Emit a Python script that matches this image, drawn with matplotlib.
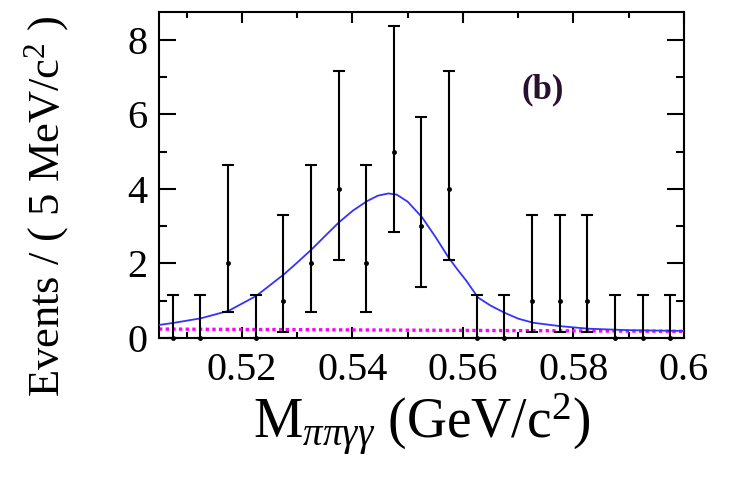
import matplotlib
matplotlib.use("Agg")
import matplotlib.pyplot as plt
from matplotlib.ticker import MultipleLocator, FixedLocator

plt.rcParams['font.family'] = 'Liberation Serif'
plt.rcParams['mathtext.fontset'] = 'custom'
plt.rcParams['mathtext.rm'] = 'Liberation Serif'
plt.rcParams['mathtext.it'] = 'Liberation Serif:italic'
plt.rcParams['mathtext.bf'] = 'Liberation Serif:bold'

# data points (5 MeV bins) with asymmetric Poisson errors
mass = [0.5075, 0.5125, 0.5175, 0.5225, 0.5275, 0.5325, 0.5375, 0.5425, 0.5475, 0.5525,
        0.5575, 0.5625, 0.5675, 0.5725, 0.5775, 0.5825, 0.5875, 0.5925, 0.5975]
counts = [0, 0, 2, 0, 1, 2, 4, 2, 5, 3, 4, 0, 0, 1, 1, 1, 0, 0, 0]
err_lo = [0.0, 0.0, 1.29, 0.0, 0.83, 1.29, 1.91, 1.29, 2.16, 1.63, 1.91, 0.0, 0.0,
          0.83, 0.83, 0.83, 0.0, 0.0, 0.0]
err_hi = [1.15, 1.15, 2.64, 1.15, 2.30, 2.64, 3.16, 2.64, 3.38, 2.92, 3.16, 1.15, 1.15,
          2.30, 2.30, 2.30, 1.15, 1.15, 1.15]

# total fit curve
fit_x = [0.505, 0.5078, 0.5126, 0.5176, 0.5226, 0.5277, 0.5302, 0.5327, 0.5352, 0.5376,
         0.5401, 0.5426, 0.5446, 0.5465, 0.5480, 0.5500, 0.5526, 0.5550, 0.5574, 0.5590,
         0.5606, 0.5627, 0.5650, 0.5675, 0.5700, 0.5727, 0.5775, 0.5827, 0.590, 0.600]
fit_y = [0.35, 0.41, 0.53, 0.73, 1.13, 1.72, 2.05, 2.39, 2.76, 3.11,
         3.42, 3.67, 3.82, 3.88, 3.85, 3.66, 3.24, 2.72, 2.16, 1.84,
         1.54, 1.09, 0.87, 0.68, 0.52, 0.41, 0.32, 0.25, 0.21, 0.19]

# background (dotted)
bkg_x = [0.505, 0.600]
bkg_y = [0.24, 0.18]

fig = plt.figure(figsize=(7.35, 4.8), dpi=100)
ax = fig.add_axes([0.2163, 0.2958, 0.7143, 0.6792])

ax.plot(bkg_x, bkg_y, color='#ff00ff', lw=2.4, ls=(0, (1, 1)), zorder=2)
ax.plot(fit_x, fit_y, color='#3333ff', lw=1.3, zorder=3)
ax.errorbar(mass, counts, yerr=[err_lo, err_hi], fmt='o', color='black', ms=2.5,
            elinewidth=1.5, capsize=4, capthick=1.5, zorder=4, clip_on=False)

ax.set_xlim(0.505, 0.6)
ax.set_ylim(0, 8.75)

ax.xaxis.set_major_locator(FixedLocator([0.52, 0.54, 0.56, 0.58, 0.60]))
ax.xaxis.set_minor_locator(FixedLocator([0.51, 0.53, 0.55, 0.57, 0.59]))
ax.set_xticklabels(['0.52', '0.54', '0.56', '0.58', '0.6'])
ax.yaxis.set_major_locator(MultipleLocator(2))
ax.yaxis.set_minor_locator(MultipleLocator(1))

ax.tick_params(axis='both', which='both', direction='in', top=True, right=True, width=1.5)
ax.tick_params(axis='x', which='major', length=8, pad=10, labelsize=29)
ax.tick_params(axis='x', which='minor', length=4)
ax.tick_params(axis='y', which='major', length=12, pad=8, labelsize=29)
ax.tick_params(axis='y', which='minor', length=6)
for s in ax.spines.values():
    s.set_linewidth(1.5)

ax.set_xlabel(r'M$_{\pi\pi\gamma\gamma}$ (GeV/c$^{2}$)', fontsize=40, labelpad=2)
ax.set_ylabel(r'Events / ( 5 MeV/c$^{2}$ )', fontsize=32)
ax.yaxis.set_label_coords(-0.168, 0.405)

ax.text(0.5745, 6.67, '(b)', fontsize=25, fontweight='bold', color='#2a1030',
        ha='center', va='center')

fig.savefig('out.png', dpi=100)
